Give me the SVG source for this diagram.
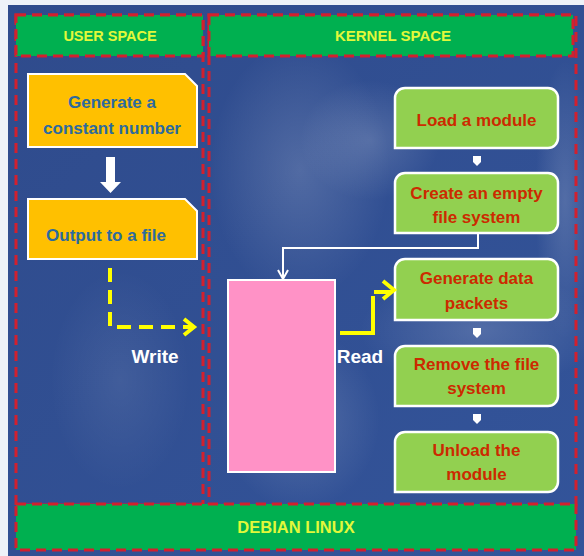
<svg xmlns="http://www.w3.org/2000/svg" width="584" height="556" viewBox="0 0 584 556">
  <style>
    .hdr { fill: #00b050; stroke: #d2202e; stroke-width: 3; stroke-dasharray: 10 6; }
    .col { fill: none; stroke: #d2202e; stroke-width: 3; stroke-dasharray: 10 6; }
    .htxt { font-family: "Liberation Sans", Arial, sans-serif; font-weight: bold; font-size: 14.5px; fill: #e2f83a; text-anchor: middle; }
    .org { fill: #ffc000; stroke: #ffffff; stroke-width: 2; }
    .otxt { font-family: "Liberation Sans", Arial, sans-serif; font-weight: bold; font-size: 17px; fill: #2c6a9e; text-anchor: middle; }
    .grn { fill: #92d050; stroke: #ffffff; stroke-width: 2.5; }
    .gtxt { font-family: "Liberation Sans", Arial, sans-serif; font-weight: bold; font-size: 17px; fill: #cc2a00; text-anchor: middle; }
    .lbl { font-family: "Liberation Sans", Arial, sans-serif; font-weight: bold; font-size: 19px; fill: #ffffff; text-anchor: middle; }
    .wline { fill: none; stroke: #ffffff; stroke-width: 2; }
    .yline { fill: none; stroke: #ffff00; stroke-width: 4; }
  </style>
  <defs>
    <radialGradient id="glow" cx="0.5" cy="0.5" r="0.5">
      <stop offset="0" stop-color="#ffffff" stop-opacity="0.16"/>
      <stop offset="1" stop-color="#ffffff" stop-opacity="0"/>
    </radialGradient>
    <linearGradient id="bg" x1="0" y1="0" x2="1" y2="1">
      <stop offset="0" stop-color="#2f4b8c"/>
      <stop offset="1" stop-color="#33549a"/>
    </linearGradient>
  </defs>

  <!-- background -->
  <rect x="0" y="0" width="584" height="556" fill="#eef2f8"/>
  <rect x="8" y="5" width="576" height="551" fill="url(#bg)"/>
  <ellipse cx="300" cy="170" rx="90" ry="130" fill="url(#glow)"/>
  <ellipse cx="370" cy="140" rx="70" ry="60" fill="url(#glow)"/>
  <ellipse cx="565" cy="200" rx="30" ry="140" fill="url(#glow)"/>
  <ellipse cx="300" cy="420" rx="80" ry="90" fill="url(#glow)"/>
  <ellipse cx="480" cy="330" rx="120" ry="60" fill="url(#glow)"/>
  <ellipse cx="120" cy="380" rx="70" ry="110" fill="url(#glow)" opacity="0.5"/>

  <!-- columns -->
  <g id="user-space">
    <rect class="col" x="16" y="15" width="187" height="490"/>
    <rect class="hdr" x="16" y="15" width="187" height="41"/>
    <text class="htxt" x="110" y="41">USER SPACE</text>
  </g>
  <g id="kernel-space">
    <rect class="col" x="209" y="15" width="367" height="490"/>
    <rect class="hdr" x="209" y="15" width="364" height="41"/>
    <text class="htxt" x="393" y="41" style="font-size:15px">KERNEL SPACE</text>
  </g>
  <g id="debian-linux">
    <rect class="hdr" x="16" y="504" width="560" height="46"/>
    <text class="htxt" x="296" y="533" style="font-size:16.5px">DEBIAN LINUX</text>
  </g>

  <!-- user space nodes -->
  <g id="gen-constant">
    <path class="org" d="M28,74 H185 L197,86 V147 H28 Z"/>
    <text class="otxt" x="112" y="108">Generate a</text>
    <text class="otxt" x="112" y="134">constant number</text>
  </g>
  <g id="output-file">
    <path class="org" d="M28,199 H185 L197,211 V259 H28 Z"/>
    <text class="otxt" x="106" y="241">Output to a file</text>
  </g>

  <!-- pink file -->
  <g id="file">
    <rect x="228" y="280" width="107" height="192" fill="#ff92c6" stroke="#ffffff" stroke-width="2"/>
  </g>

  <!-- kernel nodes -->
  <g id="load-module">
    <path class="grn" d="M395,98 A10,10 0 0 1 405,88 H548 A10,10 0 0 1 558,98 V138 A10,10 0 0 1 548,148 H395 Z"/>
    <text class="gtxt" x="476.5" y="126">Load a module</text>
  </g>
  <g id="create-fs">
    <path class="grn" d="M395,183 A10,10 0 0 1 405,173 H548 A10,10 0 0 1 558,183 V223 A10,10 0 0 1 548,233 H395 Z"/>
    <text class="gtxt" x="476.5" y="199">Create an empty</text>
    <text class="gtxt" x="476.5" y="223">file system</text>
  </g>
  <g id="gen-packets">
    <path class="grn" d="M395,269 A10,10 0 0 1 405,259 H548 A10,10 0 0 1 558,269 V310 A10,10 0 0 1 548,320 H395 Z"/>
    <text class="gtxt" x="476.5" y="284">Generate data</text>
    <text class="gtxt" x="476.5" y="309">packets</text>
  </g>
  <g id="remove-fs">
    <path class="grn" d="M395,356 A10,10 0 0 1 405,346 H548 A10,10 0 0 1 558,356 V396 A10,10 0 0 1 548,406 H395 Z"/>
    <text class="gtxt" x="476.5" y="370">Remove the file</text>
    <text class="gtxt" x="476.5" y="394">system</text>
  </g>
  <g id="unload-module">
    <path class="grn" d="M395,442 A10,10 0 0 1 405,432 H548 A10,10 0 0 1 558,442 V482 A10,10 0 0 1 548,492 H395 Z"/>
    <text class="gtxt" x="476.5" y="456">Unload the</text>
    <text class="gtxt" x="476.5" y="480">module</text>
  </g>

  <!-- connectors -->
  <g id="connectors">
    <path d="M106,157 H115 V182 H121 L110.5,193 L100,182 H106 Z" fill="#ffffff"/>
    <path d="M473,156 H481 V162 L477,166 L473,162 Z" fill="#ffffff"/>
    <path d="M473,328 H481 V334 L477,338 L473,334 Z" fill="#ffffff"/>
    <path d="M473,414 H481 V420 L477,424 L473,420 Z" fill="#ffffff"/>
    <path class="wline" d="M478,233 V248 H283 V278"/>
    <path class="wline" d="M278,270 L283,279 L288,270"/>
    <path class="yline" d="M110,268 V327 H192" stroke-dasharray="14 8"/>
    <path class="yline" d="M184,319 L194,327 L184,335"/>
    <path class="yline" d="M340,333 H373 V292 H391" stroke-dasharray="70 5"/>
    <path class="yline" d="M383,281 L394,290 L383,299"/>
    <text class="lbl" x="155" y="363">Write</text>
    <text class="lbl" x="360" y="363">Read</text>
  </g>
</svg>
